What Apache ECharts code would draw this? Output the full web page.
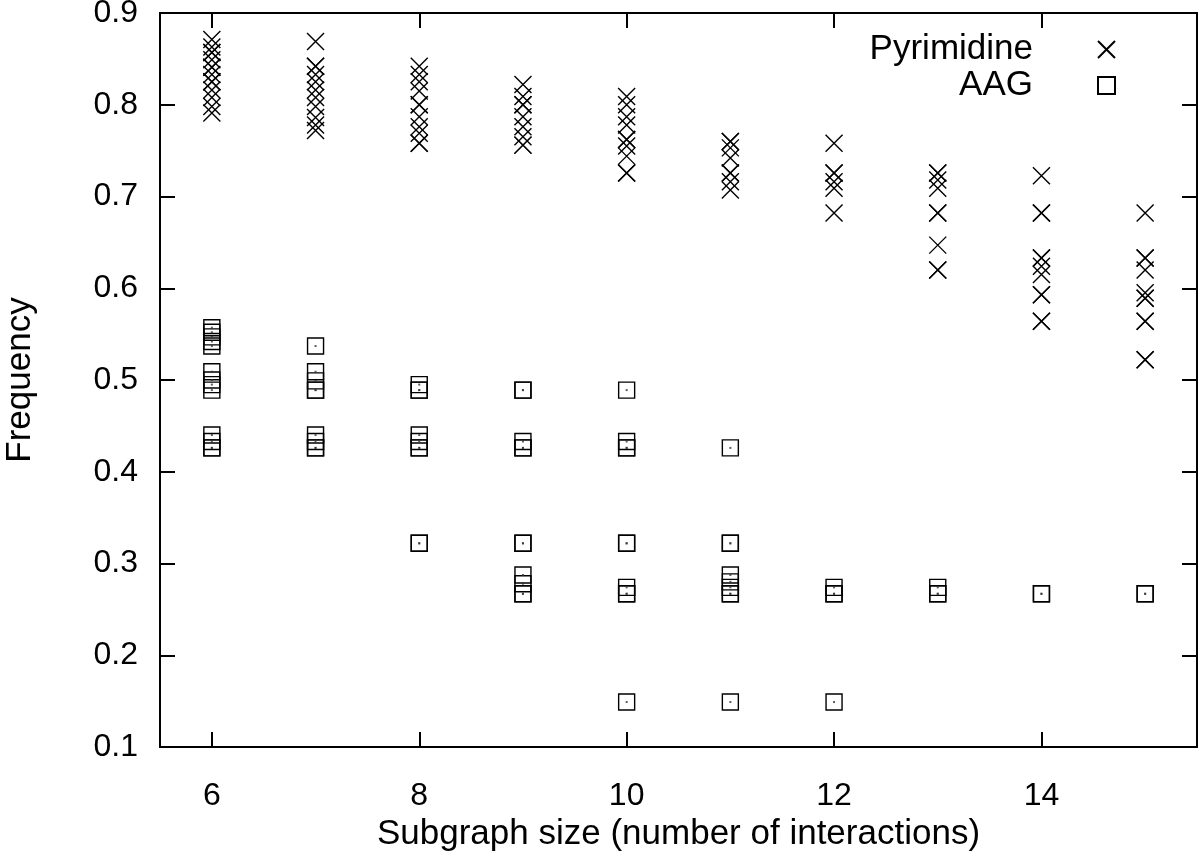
<!DOCTYPE html>
<html>
<head>
<meta charset="utf-8">
<script src="https://cdn.jsdelivr.net/npm/echarts@6/dist/echarts.min.js"></script>
<style>
html,body{margin:0;padding:0;background:#fff;}
#chart{width:1200px;height:857px;}
</style>
</head>
<body>
<div id="chart"></div>
<script>
// Subgraph sizes (x categories)
const sizes = [6, 7, 8, 9, 10, 11, 12, 13, 14, 15];
// Pyrimidine frequencies per subgraph size (repeated values = overlapping points)
const pyrimidineValues = [
  [0.871, 0.863, 0.857, 0.857, 0.849, 0.841, 0.841, 0.833, 0.825, 0.825, 0.816, 0.808, 0.798, 0.791],
  [0.869, 0.842, 0.842, 0.833, 0.825, 0.816, 0.808, 0.798, 0.786, 0.778, 0.772],
  [0.842, 0.833, 0.825, 0.815, 0.800, 0.800, 0.787, 0.776, 0.769, 0.758, 0.758],
  [0.822, 0.809, 0.800, 0.800, 0.787, 0.776, 0.765, 0.756, 0.756],
  [0.809, 0.800, 0.787, 0.778, 0.762, 0.762, 0.755, 0.744, 0.7255, 0.7255],
  [0.760, 0.760, 0.753, 0.742, 0.7255, 0.7255, 0.716, 0.707],
  [0.758, 0.7255, 0.7255, 0.716, 0.709, 0.682],
  [0.7255, 0.7255, 0.718, 0.709, 0.682, 0.682, 0.647, 0.620, 0.620],
  [0.7225, 0.682, 0.682, 0.633, 0.633, 0.624, 0.615, 0.593, 0.593, 0.564, 0.564],
  [0.682, 0.633, 0.633, 0.620, 0.595, 0.589, 0.589, 0.564, 0.564, 0.522, 0.522]
];
// AAG frequencies per subgraph size
const aagValues = [
  [0.557, 0.552, 0.547, 0.542, 0.537, 0.509, 0.500, 0.495, 0.489, 0.440, 0.433, 0.426, 0.426],
  [0.537, 0.509, 0.499, 0.489, 0.489, 0.440, 0.433, 0.426, 0.426],
  [0.495, 0.489, 0.489, 0.440, 0.433, 0.426, 0.426, 0.322, 0.322],
  [0.489, 0.489, 0.433, 0.426, 0.426, 0.322, 0.322, 0.2875, 0.278, 0.267, 0.267],
  [0.489, 0.433, 0.426, 0.426, 0.322, 0.322, 0.274, 0.267, 0.267, 0.149],
  [0.426, 0.322, 0.322, 0.2875, 0.280, 0.274, 0.267, 0.267, 0.149],
  [0.274, 0.267, 0.267, 0.149],
  [0.274, 0.267, 0.267],
  [0.267, 0.267],
  [0.267, 0.267]
];
// Axis ticks
const xTicks = [6, 8, 10, 12, 14];
const yTicks = [0.1, 0.2, 0.3, 0.4, 0.5, 0.6, 0.7, 0.8, 0.9];

function toPoints(values) {
  const pts = [];
  values.forEach((col, i) => col.forEach(v => pts.push([sizes[i], v])));
  return pts;
}
const pyrPoints = toPoints(pyrimidineValues);
const aagPoints = toPoints(aagValues);

const FONT = 'Liberation Sans, Arial, Helvetica, sans-serif';
const FS = 32;
const NFS = 35;
const crossPath = 'path://M0,0L10,10M10,0L0,10';

const chart = echarts.init(document.getElementById('chart'), null, {renderer: 'canvas'});

const axisCommon = {
  axisLine: {show: true, lineStyle: {color: '#000', width: 2}},
  splitLine: {show: false}
};

chart.setOption({
  animation: false,
  backgroundColor: '#fff',
  grid: {left: 160, right: 3, top: 13, bottom: 110, show: false, containLabel: false, outerBoundsMode: 'none'},
  legend: [
    {
      data: ['Pyrimidine'], orient: 'vertical', right: 79, top: 27, align: 'right',
      itemWidth: 17, itemHeight: 17,
      textStyle: {fontFamily: FONT, fontSize: NFS, color: '#000', padding: [0, 60, 0, 0]},
      selectedMode: false
    },
    {
      data: ['AAG'], orient: 'vertical', right: 79, top: 63, align: 'right',
      itemWidth: 17, itemHeight: 17,
      textStyle: {fontFamily: FONT, fontSize: NFS, color: '#000', padding: [0, 60, 0, 0]},
      selectedMode: false
    }
  ],
  xAxis: [
    Object.assign({}, axisCommon, {
      type: 'value', position: 'bottom', min: 5.5, max: 15.5,
      name: 'Subgraph size (number of interactions)',
      nameLocation: 'middle', nameGap: 68,
      nameTextStyle: {fontFamily: FONT, fontSize: NFS, color: '#000'},
      axisTick: {show: true, inside: true, length: 15, lineStyle: {color: '#000', width: 2}, customValues: xTicks},
      axisLabel: {show: true, margin: 33, fontFamily: FONT, fontSize: FS, color: '#000', customValues: xTicks}
    }),
    Object.assign({}, axisCommon, {
      type: 'value', position: 'top', min: 5.5, max: 15.5,
      axisTick: {show: true, inside: true, length: 15, lineStyle: {color: '#000', width: 2}, customValues: xTicks},
      axisLabel: {show: false}
    })
  ],
  yAxis: [
    Object.assign({}, axisCommon, {
      type: 'value', position: 'left', min: 0.1, max: 0.9,
      name: 'Frequency', nameLocation: 'middle', nameGap: 122, nameRotate: 90,
      nameTextStyle: {fontFamily: FONT, fontSize: NFS, color: '#000'},
      axisTick: {show: true, inside: true, length: 15, lineStyle: {color: '#000', width: 2}, customValues: yTicks},
      axisLabel: {show: true, margin: 22, fontFamily: FONT, fontSize: FS, color: '#000', customValues: yTicks,
        formatter: v => v.toFixed(1)}
    }),
    Object.assign({}, axisCommon, {
      type: 'value', position: 'right', min: 0.1, max: 0.9,
      axisTick: {show: true, inside: true, length: 15, lineStyle: {color: '#000', width: 2}, customValues: yTicks},
      axisLabel: {show: false}
    })
  ],
  series: [
    {
      name: 'Pyrimidine', type: 'scatter', xAxisIndex: 0, yAxisIndex: 0,
      symbol: crossPath, symbolSize: 17,
      itemStyle: {color: 'rgba(0,0,0,0)', borderColor: '#000', borderWidth: 1.4, opacity: 1},
      data: pyrPoints, silent: true
    },
    {
      name: 'AAG', type: 'scatter', xAxisIndex: 0, yAxisIndex: 0,
      symbol: 'rect', symbolSize: 16,
      itemStyle: {color: 'rgba(0,0,0,0)', borderColor: '#000', borderWidth: 1.4, opacity: 1},
      data: aagPoints, silent: true
    },
    {
      name: 'AAG centre', type: 'scatter', xAxisIndex: 0, yAxisIndex: 0,
      symbol: 'rect', symbolSize: 2,
      itemStyle: {color: '#333'},
      data: aagPoints, silent: true
    }
  ]
});
</script>
</body>
</html>
